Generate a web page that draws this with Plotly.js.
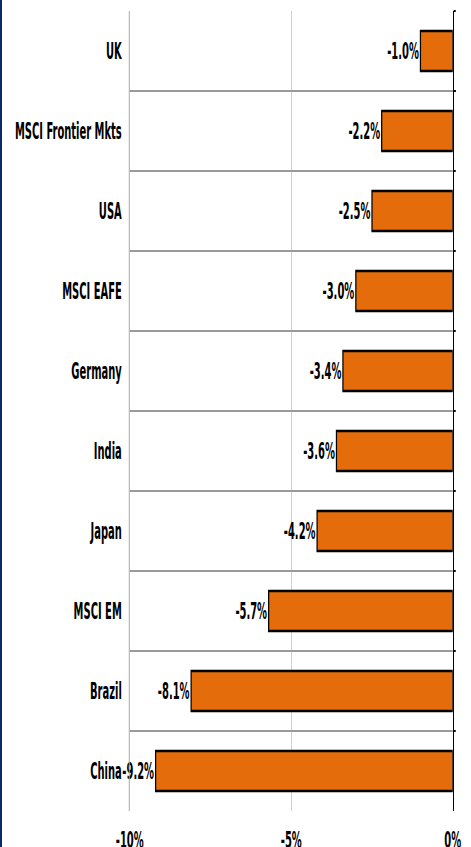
<!DOCTYPE html>
<html><head><meta charset="utf-8">
<script src="https://cdn.plot.ly/plotly-3.0.1.min.js"></script>
<style>
html,body{margin:0;padding:0;background:#fff;overflow:hidden;width:471px;height:847px}
#wrap{position:absolute;left:0;top:0;width:980px;height:847px;transform:scaleX(0.480612);transform-origin:0 0}
#edge{position:absolute;left:0;top:0;width:2px;height:847px;background:#0b2a6b}
</style></head><body>
<div id="wrap"><div id="chart" style="width:980px;height:847px"></div></div>
<div id="edge"></div>
<script>
const categories = ['UK','MSCI Frontier Mkts','USA','MSCI EAFE','Germany','India','Japan','MSCI EM','Brazil','China'];
const returns = [-1.0,-2.2,-2.5,-3.0,-3.4,-3.6,-4.2,-5.7,-8.1,-9.2];
const xTickVals = [-10,-5,0];
const xTickText = ['-10%','-5%','0%'];

const FONT = {family:'"Liberation Sans Narrow","Arial Narrow","DejaVu Sans Condensed",sans-serif', size:23, color:'#000', weight:'bold'};

const traces = [
  {type:'bar', orientation:'h', x:returns, y:categories, yaxis:'y2',
   marker:{color:'rgba(0,0,0,0)'}, hoverinfo:'skip', showlegend:false},
  {type:'bar', orientation:'h', x:returns, y:categories,
   marker:{color:'#E46C0A', line:{color:'#000', width:2.6}},
   texttemplate:'%{x:.1f}%', textposition:'outside', cliponaxis:false, constraintext:'none',
   outsidetextfont:FONT, showlegend:false}
];

const layout = {
  width:980, height:847,
  margin:{l:270, r:38, t:11, b:36},
  paper_bgcolor:'#fff', plot_bgcolor:'#fff',
  font:FONT,
  bargap:0.5,
  showlegend:false,
  xaxis:{range:[-10,0], tickvals:xTickVals, ticktext:xTickText, showgrid:true, gridcolor:'#d0d0d0', gridwidth:3,
         zeroline:false, ticks:'', ticklabelstandoff:13, tickfont:FONT, fixedrange:true},
  yaxis:{type:'category', autorange:'reversed', tickson:'boundaries', showgrid:true, gridcolor:'#9a9a9a', gridwidth:2,
         showline:true, linecolor:'#a6a6a6', linewidth:2, ticks:'', ticklabelstandoff:10, tickfont:FONT, zeroline:false},
  yaxis2:{type:'category', autorange:'reversed', overlaying:'y', side:'right', tickson:'boundaries', showgrid:false,
          showline:true, linecolor:'#000', linewidth:2.2, ticks:'outside', ticklen:4, tickwidth:2, tickcolor:'#000',
          showticklabels:false, zeroline:false}
};

Plotly.newPlot('chart', traces, layout, {displayModeBar:false, staticPlot:true});
</script>
</body></html>
